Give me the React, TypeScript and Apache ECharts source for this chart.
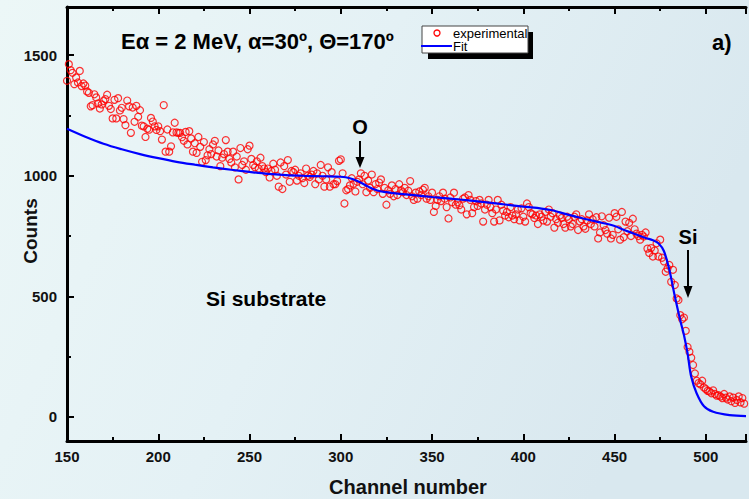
import React, { useEffect, useRef } from "react";
import * as echarts from "echarts";

const startChannel = 150;
const experimentalCounts: number[] = [
  1394, 1463, 1438, 1427, 1380, 1408, 1387, 1435, 1372, 1383,
  1374, 1350, 1344, 1288, 1293, 1338, 1325, 1300, 1279, 1296,
  1310, 1318, 1336, 1290, 1277, 1238, 1315, 1238, 1322, 1271,
  1282, 1235, 1210, 1312, 1288, 1178, 1283, 1224, 1290, 1245,
  1272, 1208, 1205, 1161, 1195, 1191, 1240, 1225, 1205, 1190,
  1205, 1185, 1150, 1293, 1100, 1192, 1100, 1122, 1180, 1220,
  1180, 1178, 1178, 1160, 1145, 1182, 1130, 1185, 1155, 1100,
  1135, 1095, 1161, 1120, 1058, 1140, 1065, 1085, 1110, 1090,
  1130, 1145, 1080, 1105, 1040, 1075, 1090, 1148, 1100, 1070,
  1055, 1100, 1035, 1080, 985, 1115, 1045, 1060, 1025, 1110,
  1125, 1070, 1045, 1035, 1060, 1030, 1075, 1040, 1030, 1015,
  1030, 993, 1020, 1050, 1025, 1000, 955, 1055, 945, 1040,
  1005, 1065, 975, 1020, 1015, 1025, 980, 1000, 1010, 990,
  970, 1030, 1000, 995, 1005, 1020, 965, 1010, 985, 1045,
  1000, 955, 985, 1035, 955, 1015, 965, 965, 978, 1062,
  1068, 1010, 885, 940, 945, 960, 990, 967, 935, 975,
  985, 1010, 965, 1000, 932, 980, 950, 1005, 932, 965,
  945, 972, 985, 925, 950, 880, 940, 925, 960, 915,
  945, 920, 965, 940, 932, 950, 920, 938, 978, 915,
  900, 930, 905, 935, 920, 942, 950, 905, 915, 900,
  930, 850, 875, 900, 915, 895, 930, 905, 870, 823,
  910, 890, 930, 880, 890, 878, 860, 905, 910, 840,
  920, 900, 845, 870, 895, 875, 900, 885, 810, 860,
  880, 900, 870, 845, 810, 860, 900, 815, 880, 855,
  835, 850, 828, 870, 835, 820, 840, 860, 815, 865,
  830, 810, 885, 870, 845, 840, 825, 835, 800, 840,
  830, 815, 850, 810, 860, 830, 845, 785, 820, 805,
  835, 825, 800, 785, 830, 820, 790, 800, 830, 840,
  775, 810, 820, 790, 780, 815, 840, 800, 820, 790,
  828, 740, 765, 832, 795, 775, 760, 826, 740, 755,
  845, 830, 778, 735, 850, 745, 810, 770, 805, 750,
  822, 778, 760, 750, 735, 755, 748, 765, 698, 680,
  700, 665, 690, 720, 665, 735, 660, 645, 602, 615,
  630, 560, 610, 547, 491, 485, 422, 405, 412, 357,
  290, 270, 245, 215, 180, 150, 140, 135, 150, 122,
  115, 108, 105, 98, 110, 95, 88, 90, 85, 78,
  95, 80, 72, 85, 65, 80, 58, 70, 85, 60,
  78, 55,
];

const fitChannels: number[] = [
  150, 160, 170, 180, 190, 200, 210, 220, 230, 240, 250, 260, 270, 280, 290,
  300, 305, 310, 315, 320, 325, 330, 340, 350, 360, 370, 380, 390, 400, 410,
  415, 420, 430, 440, 450, 455, 460, 467, 471, 474, 477, 480, 483, 486, 488, 490,
  492, 495, 499, 504, 513, 522,
];
const fitCounts: number[] = [
  1195, 1162, 1133, 1110, 1090, 1073, 1058, 1046, 1035, 1025, 1016, 1008, 1003, 1000, 998,
  996, 990, 975, 955, 939, 932, 927, 920, 912, 905, 898, 890, 881, 872, 864,
  858, 848, 828, 810, 792, 776, 762, 742, 733, 720, 688, 610, 500, 400, 340, 263,
  166, 97, 44, 21, 7, 3,
];

const xTickLabels: number[] = [150, 200, 250, 300, 350, 400, 450, 500];
const yTickLabels: number[] = [0, 500, 1000, 1500];
const yMinorTicks: number[] = [250, 750, 1250];

const FONT = '"Liberation Sans", Arial, Helvetica, sans-serif';

export default function App() {
  const ref = useRef<HTMLDivElement>(null);

  useEffect(() => {
    if (!ref.current) return;
    const chart = echarts.init(ref.current, undefined, { renderer: "svg" });

    const scatterData = experimentalCounts.map((c, i) => [startChannel + i, c]);
    const fitData = fitChannels.map((ch, i) => [ch, fitCounts[i]]);

    const axisLineStyle = { color: "#000", width: 3 };
    const tickStyle = { color: "#000", width: 2 };

    const xBase = {
      type: "value" as const,
      min: 150,
      max: 522,
      interval: 50,
      axisLine: { show: true, onZero: false, lineStyle: axisLineStyle },
      axisTick: { show: true, inside: true, length: 7, lineStyle: tickStyle },
      minorTick: { show: true, splitNumber: 2, length: 4, lineStyle: tickStyle },
      splitLine: { show: false },
      minorSplitLine: { show: false },
    };

    chart.setOption({
      animation: false,
      backgroundColor: {
        type: "linear",
        x: 0,
        y: 0,
        x2: 1,
        y2: 0.3,
        colorStops: [
          { offset: 0, color: "#ecf7f7" },
          { offset: 0.5, color: "#e4f1f5" },
          { offset: 1, color: "#d9e8ef" },
        ],
      },
      grid: { left: 67, right: 0, top: 7, bottom: 58, containLabel: false },
      xAxis: [
        {
          ...xBase,
          position: "bottom",
          axisLabel: {
            show: true,
            margin: 8,
            color: "#111",
            fontSize: 15,
            fontWeight: "bold",
            fontFamily: FONT,
            formatter: (v: number) => (xTickLabels.includes(v) ? String(v) : ""),
          },
        },
        {
          ...xBase,
          position: "top",
          axisLabel: { show: false },
        },
      ],
      yAxis: [
        {
          type: "value",
          min: -100,
          max: 1700,
          position: "left",
          axisLine: { show: true, onZero: false, lineStyle: axisLineStyle },
          axisTick: {
            show: true,
            inside: true,
            length: 7,
            lineStyle: tickStyle,
            customValues: yTickLabels,
          },
          axisLabel: {
            show: true,
            margin: 10,
            color: "#111",
            fontSize: 15,
            fontWeight: "bold",
            fontFamily: FONT,
            customValues: yTickLabels,
            formatter: (v: number) => String(v),
          },
          splitLine: { show: false },
        },
        {
          type: "value",
          min: -100,
          max: 1700,
          position: "left",
          axisLine: { show: false, onZero: false },
          axisTick: {
            show: true,
            inside: true,
            length: 4,
            lineStyle: tickStyle,
            customValues: yMinorTicks,
          },
          axisLabel: { show: false },
          splitLine: { show: false },
        },
      ],
      series: [
        {
          name: "experimental",
          type: "scatter",
          xAxisIndex: 0,
          yAxisIndex: 0,
          data: scatterData,
          symbol: "circle",
          symbolSize: 7,
          itemStyle: {
            color: "rgba(255,255,255,0)",
            borderColor: "#ff0000",
            borderWidth: 1.2,
          },
          z: 2,
        },
        {
          name: "Fit",
          type: "line",
          xAxisIndex: 0,
          yAxisIndex: 0,
          data: fitData,
          showSymbol: false,
          smooth: 0.35,
          lineStyle: { color: "#0000ff", width: 2.2 },
          z: 3,
        },
      ],
      graphic: [
        {
          type: "text",
          x: 121,
          y: 41,
          style: {
            text: "Eα = 2 MeV, α=30º, Θ=170º",
            font: `bold 22px ${FONT}`,
            fill: "#000",
            align: "left",
            verticalAlign: "middle",
          },
        },
        {
          type: "text",
          x: 712,
          y: 42,
          style: {
            text: "a)",
            font: `bold 22px ${FONT}`,
            fill: "#000",
            align: "left",
            verticalAlign: "middle",
          },
        },
        {
          type: "text",
          x: 360,
          y: 127,
          style: {
            text: "O",
            font: `bold 20px ${FONT}`,
            fill: "#000",
            align: "center",
            verticalAlign: "middle",
          },
        },
        {
          type: "line",
          shape: { x1: 360, y1: 141, x2: 360, y2: 160 },
          style: { stroke: "#000", lineWidth: 2 },
        },
        {
          type: "polygon",
          shape: { points: [[355.5, 157], [364.5, 157], [360, 168]] },
          style: { fill: "#000" },
        },
        {
          type: "text",
          x: 688,
          y: 237,
          style: {
            text: "Si",
            font: `bold 20px ${FONT}`,
            fill: "#000",
            align: "center",
            verticalAlign: "middle",
          },
        },
        {
          type: "line",
          shape: { x1: 688, y1: 250, x2: 688, y2: 289 },
          style: { stroke: "#000", lineWidth: 2 },
        },
        {
          type: "polygon",
          shape: { points: [[683.5, 286], [692.5, 286], [688, 298]] },
          style: { fill: "#000" },
        },
        {
          type: "text",
          x: 206,
          y: 298,
          style: {
            text: "Si substrate",
            font: `bold 21px ${FONT}`,
            fill: "#000",
            align: "left",
            verticalAlign: "middle",
          },
        },
        {
          type: "text",
          x: 30,
          y: 231,
          rotation: Math.PI / 2,
          style: {
            text: "Counts",
            font: `bold 19px ${FONT}`,
            fill: "#111",
            align: "center",
            verticalAlign: "middle",
          },
        },
        {
          type: "text",
          x: 408,
          y: 487,
          style: {
            text: "Channel number",
            font: `bold 20px ${FONT}`,
            fill: "#111",
            align: "center",
            verticalAlign: "middle",
          },
        },
        {
          type: "rect",
          shape: { x: 428, y: 32, width: 105, height: 27 },
          style: { fill: "#000" },
        },
        {
          type: "rect",
          shape: { x: 422, y: 26, width: 106, height: 27 },
          style: { fill: "#fff", stroke: "#444", lineWidth: 1 },
        },
        {
          type: "circle",
          shape: { cx: 437, cy: 33, r: 3 },
          style: { fill: "none", stroke: "#ff0000", lineWidth: 1.3 },
        },
        {
          type: "line",
          shape: { x1: 421, y1: 46, x2: 452, y2: 46 },
          style: { stroke: "#0000ff", lineWidth: 2 },
        },
        {
          type: "text",
          x: 453,
          y: 33,
          style: {
            text: "experimental",
            font: `13px ${FONT}`,
            fill: "#000",
            align: "left",
            verticalAlign: "middle",
          },
        },
        {
          type: "text",
          x: 453,
          y: 46.5,
          style: {
            text: "Fit",
            font: `13px ${FONT}`,
            fill: "#000",
            align: "left",
            verticalAlign: "middle",
          },
        },
      ],
    });

    return () => {
      chart.dispose();
    };
  }, []);

  return (
    <div
      ref={ref}
      style={{ position: "fixed", left: 0, top: 0, width: 749, height: 499 }}
    />
  );
}
